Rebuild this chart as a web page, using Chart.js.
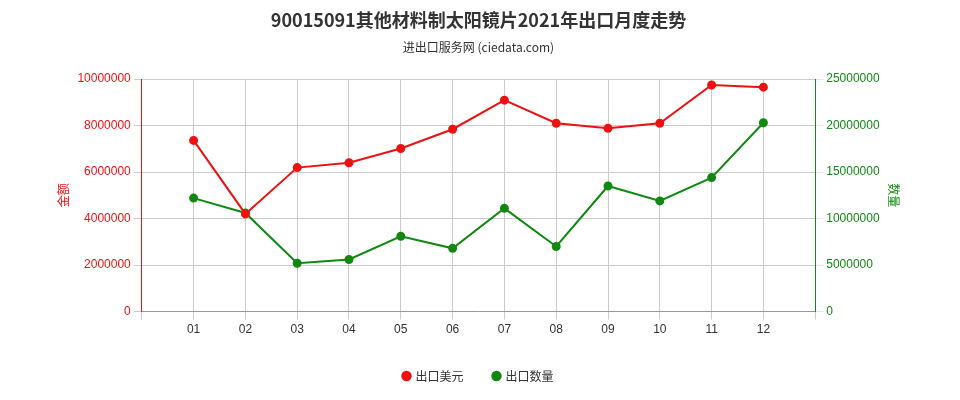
<!DOCTYPE html>
<html><head><meta charset="utf-8">
<script src="https://cdn.jsdelivr.net/npm/chart.js@4/dist/chart.umd.min.js"></script>
<style>html,body{margin:0;background:#fff}#wrap{width:960px;height:400px}</style>
</head><body><div id="wrap"><canvas id="c"></canvas></div>
<script>
const months = ['', '01', '02', '03', '04', '05', '06', '07', '08', '09', '10', '11', '12', ''];
const exportUsd = [null, 7360000, 4200000, 6190000, 6400000, 7010000, 7840000, 9090000, 8100000, 7880000, 8100000, 9740000, 9650000, null];
const exportQty = [null, 12200000, 10600000, 5200000, 5600000, 8100000, 6800000, 11100000, 7000000, 13500000, 11900000, 14400000, 20300000, null];

const font = "'Noto Sans CJK SC', 'Noto Sans', sans-serif";
const plain = v => String(v);
new Chart(document.getElementById('c'), {
    type: 'line',
    data: {
        labels: months,
        datasets: [
            { label: '出口美元', data: exportUsd, borderColor: '#ee1111', backgroundColor: '#ee1111', pointRadius: 3.5, borderWidth: 2, yAxisID: 'y' },
            { label: '出口数量', data: exportQty, borderColor: '#118811', backgroundColor: '#118811', pointRadius: 3.5, borderWidth: 2, yAxisID: 'y1' }
        ]
    },
    options: {
        responsive: true, maintainAspectRatio: false, animation: false,
        layout: { padding: { left: 52, right: 55, top: 5, bottom: 8 } },
        plugins: {
            title: { display: true, text: '90015091其他材料制太阳镜片2021年出口月度走势', color: '#333', font: { family: font, size: 18, weight: 'bold' }, padding: { top: 4, bottom: 10 } },
            subtitle: { display: true, text: '进出口服务网 (ciedata.com)', color: '#333', font: { family: font, size: 12 }, padding: { bottom: 24 } },
            legend: { position: 'bottom', labels: { usePointStyle: true, pointStyle: 'circle', boxWidth: 6, boxHeight: 6, color: '#333', font: { family: font, size: 12 }, padding: 30 } }
        },
        scales: {
            x: { offset: false, grid: { color: '#ccc' }, border: { color: '#999' }, ticks: { color: '#333', font: { size: 12 }, autoSkip: false, maxRotation: 0 } },
            y: { position: 'left', min: 0, max: 10000000, ticks: { stepSize: 2000000, color: '#ee1111', font: { size: 12 }, callback: plain }, grid: { color: '#ccc' }, border: { color: '#ee1111' },
                 title: { display: true, text: '金额', color: '#ee1111', font: { family: font, size: 12 } } },
            y1: { position: 'right', min: 0, max: 25000000, ticks: { stepSize: 5000000, color: '#118811', font: { size: 12 }, callback: plain }, grid: { drawOnChartArea: false }, border: { color: '#118811' },
                  title: { display: true, text: '数量', color: '#118811', font: { family: font, size: 12 } } }
        }
    }
});
</script></body></html>
